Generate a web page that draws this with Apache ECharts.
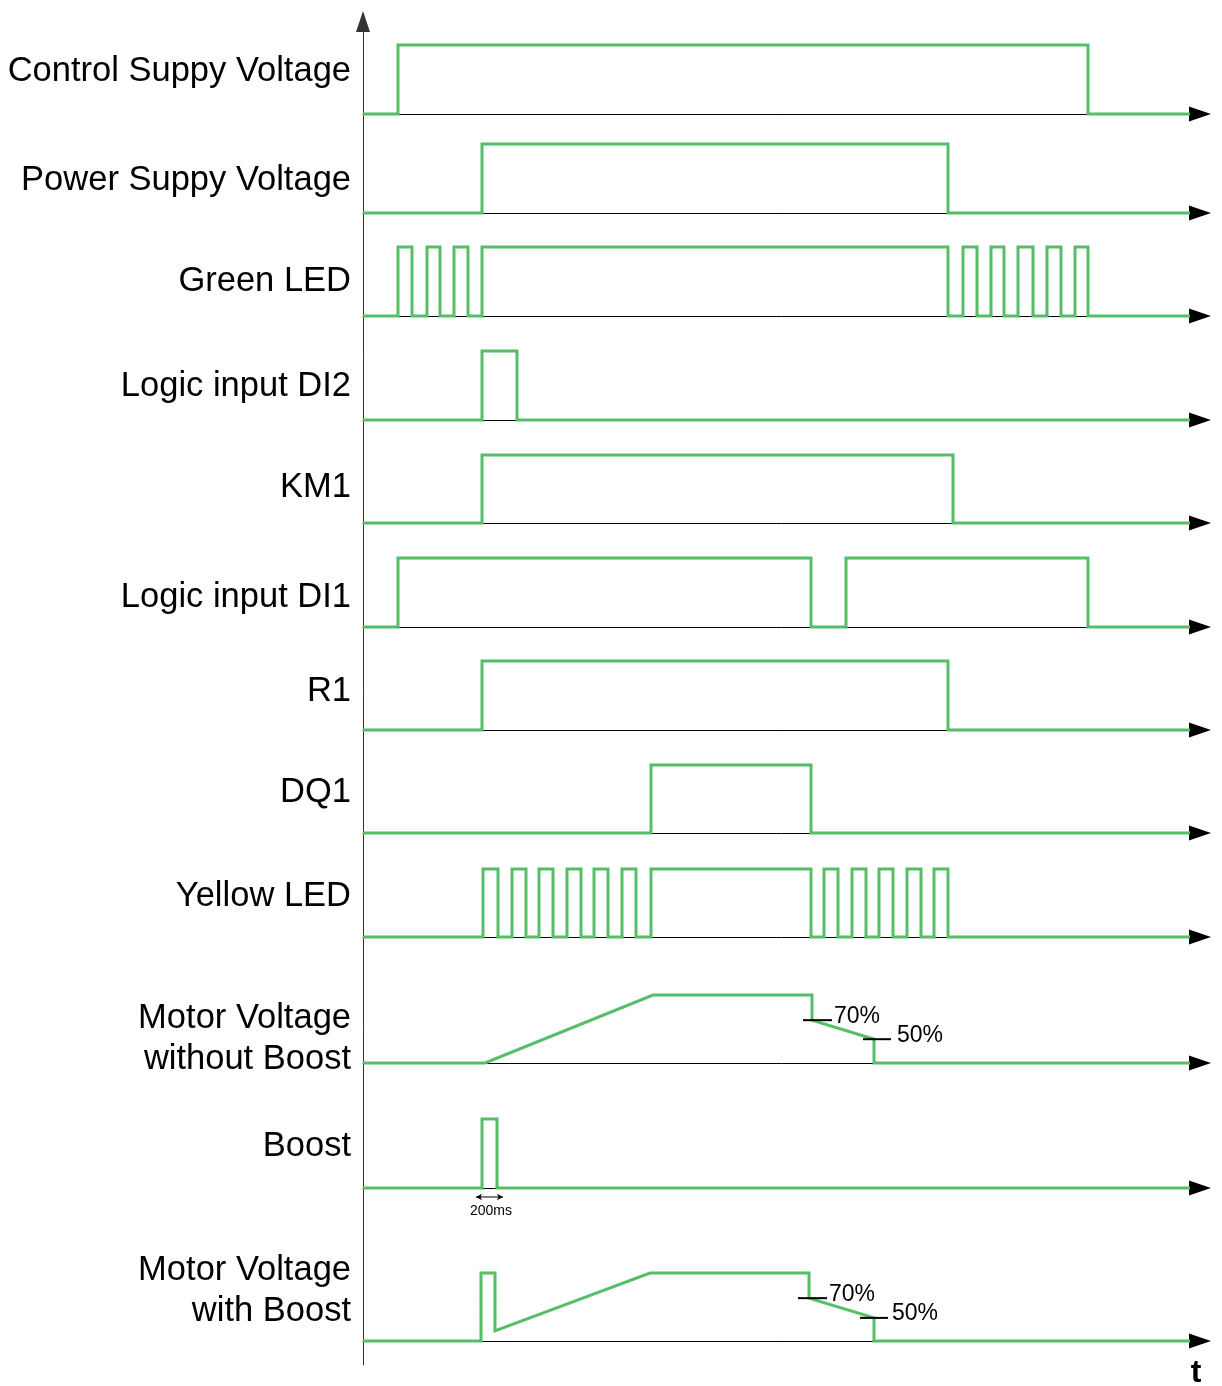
<!DOCTYPE html>
<html>
<head>
<meta charset="utf-8">
<script src="https://cdn.jsdelivr.net/npm/echarts@6/dist/echarts.min.js"></script>
<style>
html,body{margin:0;padding:0;background:#fff;}
#chart{width:1222px;height:1386px;}
</style>
</head>
<body>
<div id="chart"></div>
<script>
// ---------------- DATA ----------------
const rowNames = [
  'Control Suppy Voltage',
  'Power Suppy Voltage',
  'Green LED',
  'Logic input DI2',
  'KM1',
  'Logic input DI1',
  'R1',
  'DQ1',
  'Yellow LED',
  'Motor Voltage\nwithout Boost',
  'Boost',
  'Motor Voltage\nwith Boost'
];
const timeEnd = 827;   // end of the drawn signals (time units)
const axisEnd = 837;   // end of each time axis
// edge times of the digital signals (signal starts low and toggles at each edge)
const controlSupplyEdges = [35, 725];
const powerSupplyEdges = [119, 585];
const greenLedEdges = [35, 49, 64, 77, 91, 105, 119, 585, 600, 614, 628, 641, 655, 670, 684, 698, 712, 725];
const di2Edges = [119, 154];
const km1Edges = [119, 590];
const di1Edges = [35, 448, 483, 725];
const r1Edges = [119, 585];
const dq1Edges = [288, 448];
const yellowLedEdges = [120, 135, 149, 163, 176, 190, 204, 218, 231, 245, 259, 273, 288, 448, 461, 475, 489, 503, 516, 530, 544, 558, 571, 585];
const boostEdges = [119, 134];
// analog signals [time, level]
const motorNoBoost = [[0, 0], [122, 0], [290, 1], [449, 1], [449, 0.63], [511, 0.35], [511, 0], [827, 0]];
const motorWithBoost = [[0, 0], [118, 0], [118, 1], [132, 1], [132, 0.15], [287, 1], [446, 1], [446, 0.63], [511, 0.34], [511, 0], [827, 0]];
// level markers [fromTime, toTime, level, text]
const markersNoBoost = [[440, 469, 0.63, '70%'], [500, 528, 0.35, '50%']];
const markersWithBoost = [[435, 464, 0.63, '70%'], [497, 525, 0.34, '50%']];
// boost duration annotation [fromTime, toTime, level, text]
const boostSpan = [113, 140, -0.13, '200ms'];
const timeLabel = 't';

// ---------------- LAYOUT ----------------
const GREEN = '#55be67';
const FONT = 'Liberation Sans, Arial, sans-serif';
const rowHigh = [45, 144, 247, 351, 455, 558, 661, 765, 869, 995, 1119, 1273];
const rowBase = [114, 213, 316, 420, 523, 627, 730, 833, 937, 1063, 1188, 1341];
const labelY = [71, 180, 281, 386, 487, 597, 691, 792, 896, 998, 1146, 1250];
const markerGapNoBoost = [2, 6];
const markerGapWithBoost = [2, 4];

function stepsFromEdges(edges) {
  const pts = [[0, 0]];
  let lvl = 0;
  edges.forEach(t => {
    pts.push([t, lvl]);
    lvl = 1 - lvl;
    pts.push([t, lvl]);
  });
  pts.push([timeEnd, lvl]);
  return pts;
}

const signals = [
  stepsFromEdges(controlSupplyEdges),
  stepsFromEdges(powerSupplyEdges),
  stepsFromEdges(greenLedEdges),
  stepsFromEdges(di2Edges),
  stepsFromEdges(km1Edges),
  stepsFromEdges(di1Edges),
  stepsFromEdges(r1Edges),
  stepsFromEdges(dq1Edges),
  stepsFromEdges(yellowLedEdges),
  motorNoBoost,
  stepsFromEdges(boostEdges),
  motorWithBoost
];

const grids = [], xAxes = [], yAxes = [], series = [];
rowNames.forEach((name, i) => {
  grids.push({left: 363, right: 22, top: rowHigh[i], height: rowBase[i] - rowHigh[i]});
  xAxes.push({
    gridIndex: i, type: 'value', min: 0, max: axisEnd,
    axisLine: {show: true, onZero: false, lineStyle: {color: '#000', width: 1},
      symbol: ['none', 'triangle'], symbolSize: [15, 22]},
    axisTick: {show: false}, axisLabel: {show: false}, splitLine: {show: false}
  });
  yAxes.push({gridIndex: i, type: 'value', min: 0, max: 1, show: false});
  series.push({
    type: 'line', xAxisIndex: i, yAxisIndex: i, data: signals[i],
    symbol: 'none', clip: false, animation: false, z: 3,
    lineStyle: {color: GREEN, width: 3, join: 'miter'}
  });
});

// vertical axis
grids.push({left: 363, right: 22, top: 21.5, bottom: 21});
xAxes.push({gridIndex: 12, type: 'value', min: 0, max: axisEnd, show: false});
yAxes.push({
  gridIndex: 12, type: 'value', min: 0, max: 1,
  axisLine: {show: true, lineStyle: {color: '#333', width: 1},
    symbol: ['none', 'triangle'], symbolSize: [14, 21]},
  axisTick: {show: false}, axisLabel: {show: false}, splitLine: {show: false}
});

function addMarkers(list, idx, gaps) {
  list.forEach((m, k) => {
    series.push({
      type: 'line', xAxisIndex: idx, yAxisIndex: idx,
      data: [[m[0], m[2]], [m[1], m[2]]],
      symbol: 'none', clip: false, animation: false, z: 4,
      lineStyle: {color: '#000', width: 2},
      endLabel: {show: true, formatter: m[3], color: '#000', fontSize: 23,
        fontFamily: FONT, distance: gaps[k], offset: [0, -4]}
    });
  });
}
addMarkers(markersNoBoost, 9, markerGapNoBoost);
addMarkers(markersWithBoost, 11, markerGapWithBoost);

// boost duration double arrow
series.push({
  type: 'line', xAxisIndex: 10, yAxisIndex: 10, clip: false, animation: false, z: 4,
  data: [
    {value: [boostSpan[0], boostSpan[2]], symbol: 'arrow', symbolRotate: 90},
    {value: [boostSpan[1], boostSpan[2]], symbol: 'arrow', symbolRotate: -90}
  ],
  symbolSize: [5, 6], showSymbol: true,
  itemStyle: {color: '#000'},
  lineStyle: {color: '#000', width: 1}
});

const graphics = [];
rowNames.forEach((name, i) => {
  const twoLine = name.indexOf('\n') >= 0;
  graphics.push({
    type: 'text', x: 351, y: labelY[i],
    style: {text: name, fill: '#000', fontSize: 34.5, lineHeight: 41,
      fontFamily: FONT,
      textAlign: 'right', textVerticalAlign: twoLine ? 'top' : 'middle'}
  });
});
graphics.push({type: 'text', x: 491, y: 1211,
  style: {text: boostSpan[3], fill: '#000', fontSize: 14,
    fontFamily: FONT, textAlign: 'center', textVerticalAlign: 'middle'}});
graphics.push({type: 'text', x: 1196, y: 1373,
  style: {text: timeLabel, fill: '#000', fontSize: 32, fontWeight: 'bold',
    fontFamily: FONT, textAlign: 'center', textVerticalAlign: 'middle'}});

const chart = echarts.init(document.getElementById('chart'), null, {renderer: 'canvas'});
chart.setOption({
  backgroundColor: '#fff',
  animation: false,
  grid: grids, xAxis: xAxes, yAxis: yAxes, series: series,
  graphic: graphics
});
</script>
</body>
</html>
